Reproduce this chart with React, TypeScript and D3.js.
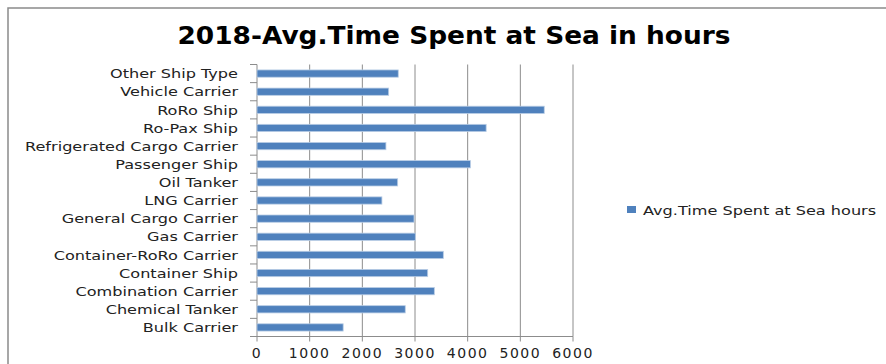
import React from "react";
import * as d3 from "d3";

const categories = [
  "Other Ship Type",
  "Vehicle Carrier",
  "RoRo Ship",
  "Ro-Pax Ship",
  "Refrigerated Cargo Carrier",
  "Passenger Ship",
  "Oil Tanker",
  "LNG Carrier",
  "General Cargo Carrier",
  "Gas Carrier",
  "Container-RoRo Carrier",
  "Container Ship",
  "Combination Carrier",
  "Chemical Tanker",
  "Bulk Carrier",
];
const values = [2682, 2500, 5454, 4351, 2448, 4052, 2671, 2372, 2981, 3006, 3538, 3241, 3367, 2815, 1636];
const xTicks = [0, 1000, 2000, 3000, 4000, 5000, 6000];
const title = "2018-Avg.Time Spent at Sea in hours";
const seriesName = "Avg.Time Spent at Sea hours";

export default function App() {
  const W = 886, H = 364;
  const left = 257, right = 573, top = 64.5, bottom = 336.5;
  const x = d3.scaleLinear().domain([0, 6000]).range([left, right]);
  const y = d3.scaleBand().domain(categories).range([top, bottom]).paddingInner(0.6).paddingOuter(0.3);
  const band = (bottom - top) / categories.length;
  const font = "'DejaVu Sans', sans-serif";
  const barColor = "#4F81BD";
  const sx = 1.24;
  return (
    <svg width={W} height={H} style={{ position: "absolute", left: 0, top: 0, background: "#fff" }}>
      <rect x={8} y={8} width={W + 10} height={H + 10} fill="#fff" stroke="#8a8a8a" strokeWidth={1.5} />
      <text transform={`translate(454,43.5) scale(1.1,1)`} textAnchor="middle" fontFamily={font} fontWeight="bold" fontSize={24} fill="#000">
        {title}
      </text>
      {xTicks.map((t) => (
        <g key={t}>
          {t > 0 && <line x1={x(t)} x2={x(t)} y1={top} y2={bottom} stroke="#8c8c8c" strokeWidth={1} />}
          <line x1={x(t)} x2={x(t)} y1={bottom} y2={bottom + 5} stroke="#8c8c8c" strokeWidth={1} />
          <text x={x(t)} y={358} textAnchor="middle" fontFamily={font} fontSize={14} letterSpacing={1.5} fill="#222">
            {t}
          </text>
        </g>
      ))}
      {d3.range(categories.length + 1).map((i) => (
        <line key={"yt" + i} x1={left - 7} x2={left} y1={top + i * band} y2={top + i * band} stroke="#8c8c8c" strokeWidth={1} />
      ))}
      <line x1={left} x2={left} y1={top} y2={bottom} stroke="#8c8c8c" strokeWidth={1} />
      <line x1={left} x2={right} y1={bottom} y2={bottom} stroke="#8c8c8c" strokeWidth={1} />
      {categories.map((c, i) => (
        <g key={c}>
          <rect
            x={x(0)}
            y={y(c)!}
            width={x(values[i]) - x(0)}
            height={y.bandwidth()}
            fill={barColor}
            stroke="#b9cde5"
            strokeWidth={0.8}
          />
          <text
            transform={`translate(238,${y(c)! + y.bandwidth() / 2}) scale(${sx},1)`}
            dy="0.36em"
            textAnchor="end"
            fontFamily={font}
            fontSize={13}
            fill="#222"
          >
            {c}
          </text>
        </g>
      ))}
      <rect x={627} y={206} width={9} height={7} fill={barColor} />
      <text transform={`translate(643,210) scale(${sx},1)`} dy="0.36em" fontFamily={font} fontSize={13} fill="#222">
        {seriesName}
      </text>
    </svg>
  );
}
